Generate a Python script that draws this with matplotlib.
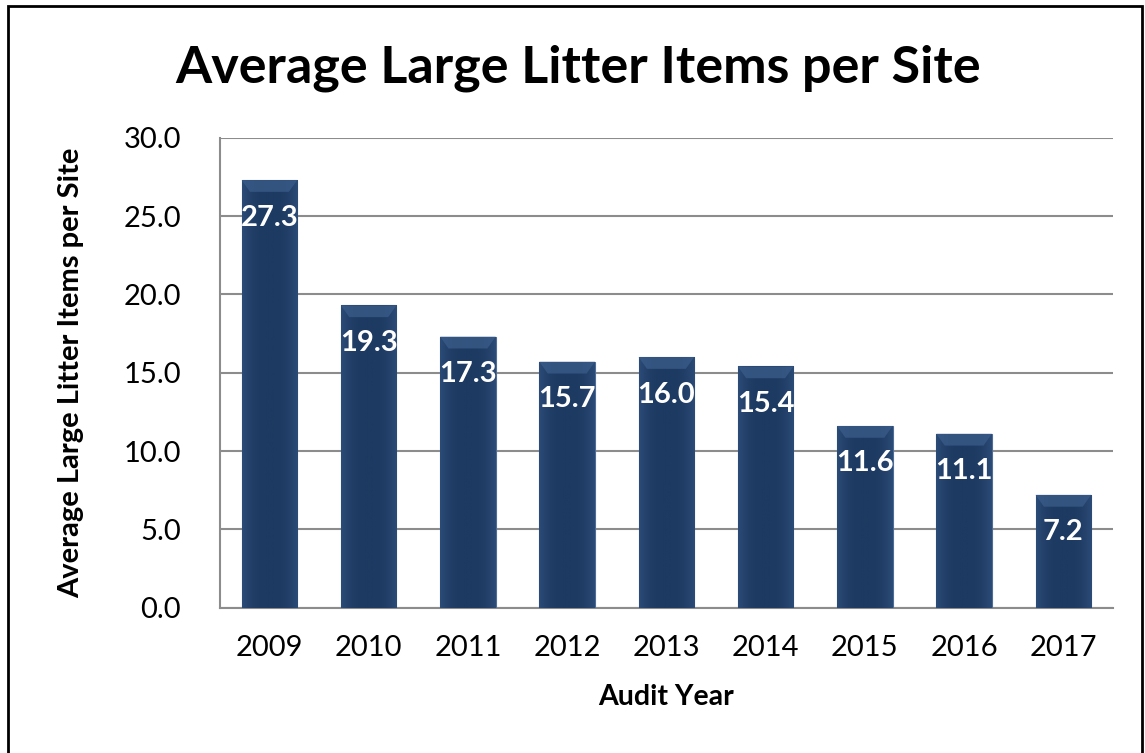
import matplotlib
matplotlib.use("Agg")
import matplotlib.pyplot as plt
import numpy as np
from matplotlib.patches import Rectangle

years = ["2009", "2010", "2011", "2012", "2013", "2014", "2015", "2016", "2017"]
avg_items = [27.3, 19.3, 17.3, 15.7, 16.0, 15.4, 11.6, 11.1, 7.2]
yticks = [0, 5, 10, 15, 20, 25, 30]

plt.rcParams['font.family'] = ['Lato', 'DejaVu Sans']

fig = plt.figure(figsize=(11.45, 7.53), dpi=100)
ax = fig.add_axes([0.192, 0.193, 0.780, 0.624])

x = np.arange(len(years))
bars = ax.bar(x, avg_items, width=0.56, color='#1f3d67', edgecolor='#4d6d98',
              linewidth=0.8, zorder=3)

# soft horizontal shading to mimic the bevelled bars (edges a bit lighter)
grad = np.linspace(0, 1, 64)
shade = np.abs(grad - 0.5) * 2
cmap = matplotlib.colors.LinearSegmentedColormap.from_list('b', ['#1d3a62', '#2c4c78'])
for bar in bars:
    bx, bw, bh = bar.get_x(), bar.get_width(), bar.get_height()
    img = ax.imshow(shade[np.newaxis, :] ** 3, extent=(bx, bx + bw, 0, bh),
                    cmap=cmap, aspect='auto', zorder=3.5)
    img.set_clip_path(bar)
    # slightly lighter cap at top
    cap = 0.75
    ax.add_patch(plt.Polygon([(bx, bh), (bx + bw, bh), (bx + bw * 0.85, bh - cap),
                              (bx + bw * 0.15, bh - cap)], closed=True,
                             color='#3a5b88', alpha=0.8, zorder=4, lw=0))
    ax.annotate(f"{bh:.1f}", (bx + bw / 2, bh), xytext=(0, -27),
                textcoords='offset points', ha='center', va='center',
                color='white', fontsize=21, fontweight='bold', zorder=5)

ax.set_xlim(-0.5, len(years) - 0.5)
ax.set_ylim(0, 30)
ax.set_yticks(yticks)
ax.set_yticklabels([f"{v:.1f}" for v in yticks], fontsize=21)
ax.set_xticks(x)
ax.set_xticklabels(years, fontsize=21)
ax.tick_params(axis='x', length=0, pad=20)
ax.tick_params(axis='y', length=0, pad=28)

ax.grid(axis='y', color='#8c8c8c', linewidth=1.5, zorder=0)
for side in ['top', 'right']:
    ax.spines[side].set_visible(False)
ax.spines['left'].set_color('#8c8c8c')
ax.spines['left'].set_linewidth(1.5)
ax.spines['bottom'].set_color('#8c8c8c')
ax.spines['bottom'].set_linewidth(1.5)

ax.set_xlabel("Audit Year", fontsize=20.5, fontweight='bold', labelpad=16)
ax.set_ylabel("Average Large Litter Items per Site", fontsize=21,
              fontweight='bold', labelpad=28)

fig.text(0.505, 0.91, "Average Large Litter Items per Site", ha='center',
         va='center', fontsize=37.5, fontweight='bold')

fig.patches.append(Rectangle((0.007, -0.01), 0.99, 1.002, transform=fig.transFigure,
                             fill=False, edgecolor='black', linewidth=2))

fig.savefig("out.png", dpi=100)
